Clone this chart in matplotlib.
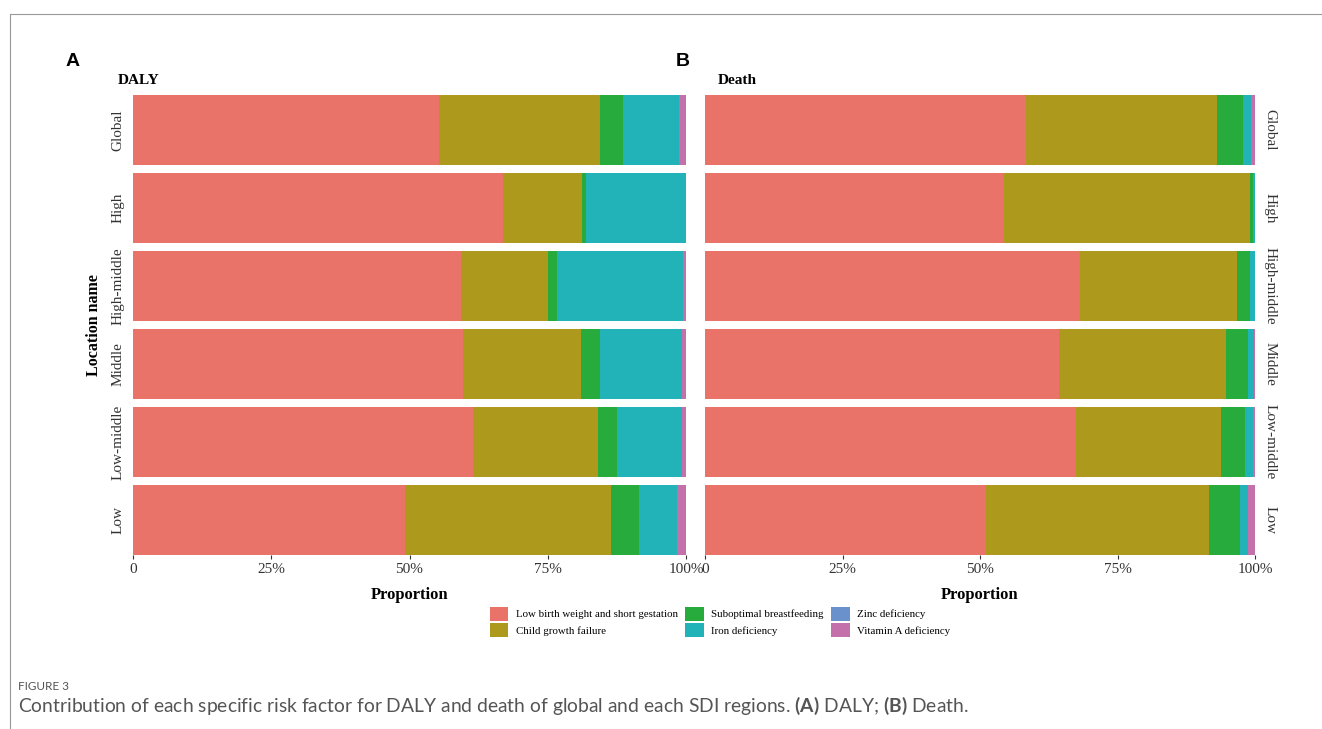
import numpy as np
import matplotlib
matplotlib.use("Agg")
import matplotlib.pyplot as plt
from matplotlib.lines import Line2D

# regions, top to bottom
regions = ["Global", "High", "High-middle", "Middle", "Low-middle", "Low"]
factors = ["Low birth weight and short gestation", "Child growth failure",
           "Suboptimal breastfeeding", "Iron deficiency",
           "Zinc deficiency", "Vitamin A deficiency"]
colors = ["#EA7369", "#AD991C", "#27AB3C", "#21B3B8", "#6A91CB", "#C470AB"]

# proportions (%), one list per factor
daly_lbw   = [55.3, 66.9, 59.3, 59.7, 61.5, 49.2]
daly_cgf   = [29.1, 14.3, 15.7, 21.3, 22.6, 37.2]
daly_sbf   = [4.2, 0.7, 1.7, 3.4, 3.5, 5.1]
daly_iron  = [10.1, 18.1, 22.8, 14.9, 11.6, 6.8]
daly_zinc  = [0.0, 0.0, 0.0, 0.0, 0.0, 0.0]
daly_vita  = [1.3, 0.0, 0.5, 0.7, 0.8, 1.7]

death_lbw  = [58.4, 54.3, 68.1, 64.4, 67.5, 51.0]
death_cgf  = [34.6, 44.8, 28.6, 30.3, 26.4, 40.7]
death_sbf  = [4.8, 0.5, 2.4, 4.1, 4.2, 5.6]
death_iron = [1.4, 0.4, 0.9, 1.1, 1.6, 1.5]
death_zinc = [0.0, 0.0, 0.0, 0.0, 0.0, 0.0]
death_vita = [0.8, 0.0, 0.0, 0.1, 0.3, 1.2]

xticks = [0, 25, 50, 75, 100]
xticklabels = ["0", "25%", "50%", "75%", "100%"]

W, H = 1322, 729
SERIF = "Liberation Serif"
plt.rcParams["mathtext.fontset"] = "custom"
plt.rcParams["mathtext.bf"] = "Lato:bold"
plt.rcParams["mathtext.rm"] = "Lato"

fig = plt.figure(figsize=(W / 100, H / 100), dpi=100)


def px_axes(x0, x1, y0, y1):
    return fig.add_axes([x0 / W, 1 - y1 / H, (x1 - x0) / W, (y1 - y0) / H])


def stacked(ax, series):
    y = np.arange(len(regions))
    left = np.zeros(len(regions))
    handles = []
    for vals, col, lab in zip(series, colors, factors):
        b = ax.barh(y, vals, left=left, height=0.9, color=col, label=lab)
        handles.append(b)
        left += np.array(vals)
    ax.set_ylim(len(regions) - 0.55, -0.45)
    ax.set_xlim(0, 100)
    ax.set_yticks(y)
    ax.set_xticks(xticks)
    ax.set_xticklabels(xticklabels, fontfamily=SERIF, fontsize=11, color="#333333")
    for s in ax.spines.values():
        s.set_visible(False)
    ax.tick_params(axis="x", length=3, width=0.8, color="#333333", pad=3)
    ax.tick_params(axis="y", length=0)
    ax.set_xlabel("Proportion", fontfamily=SERIF, fontsize=12, fontweight="bold", labelpad=8)
    return handles


axA = px_axes(133, 686, 95, 555)
handles = stacked(axA, [daly_lbw, daly_cgf, daly_sbf, daly_iron, daly_zinc, daly_vita])
axA.set_yticklabels(regions, rotation=90, va="center", fontfamily=SERIF, fontsize=11, color="#333333")
axA.tick_params(axis="y", pad=6)
axA.set_ylabel("Location name", fontfamily=SERIF, fontsize=11.5, fontweight="bold", labelpad=7)

axB = px_axes(705, 1255, 95, 555)
stacked(axB, [death_lbw, death_cgf, death_sbf, death_iron, death_zinc, death_vita])
axB.yaxis.tick_right()
axB.set_yticklabels(regions, rotation=270, va="center", fontfamily=SERIF, fontsize=11, color="#333333")
axB.tick_params(axis="y", pad=6)

# panel letters and titles
fig.text(66 / W, 1 - 61 / H, "A", fontsize=14, fontweight="bold", family="Liberation Sans", va="center")
fig.text(676 / W, 1 - 61 / H, "B", fontsize=14, fontweight="bold", family="Liberation Sans", va="center")
fig.text(118 / W, 1 - 81 / H, "DALY", fontsize=11, fontweight="bold", family=SERIF, va="center")
fig.text(718 / W, 1 - 81 / H, "Death", fontsize=11, fontweight="bold", family=SERIF, va="center")

# legend
fig.legend(handles=handles, labels=factors, ncol=3, loc="center",
           bbox_to_anchor=(720 / W, 1 - 622 / H), frameon=False,
           prop={"family": SERIF, "size": 7.8},
           handlelength=1.7, handleheight=1.7, handletextpad=0.7,
           columnspacing=0.7, labelspacing=0.15, borderpad=0.2)

# page frame
fig.add_artist(Line2D([10 / W, 1], [1 - 14 / H, 1 - 14 / H], color="#999999", lw=0.8))
fig.add_artist(Line2D([10 / W, 10 / W], [1 - 14 / H, 0], color="#999999", lw=0.8))

# caption
fig.text(18 / W, 1 - 686 / H, "FIGURE 3", fontsize=8.5, family="Lato", color="#555555", va="center")
fig.text(18 / W, 1 - 706 / H,
         "Contribution of each specific risk factor for DALY and death of global and each SDI regions. "
         "$\\bf{(A)}$ DALY; $\\bf{(B)}$ Death.",
         fontsize=13.9, family="Lato", color="#555555", va="center")

fig.savefig("out.png", dpi=100)
